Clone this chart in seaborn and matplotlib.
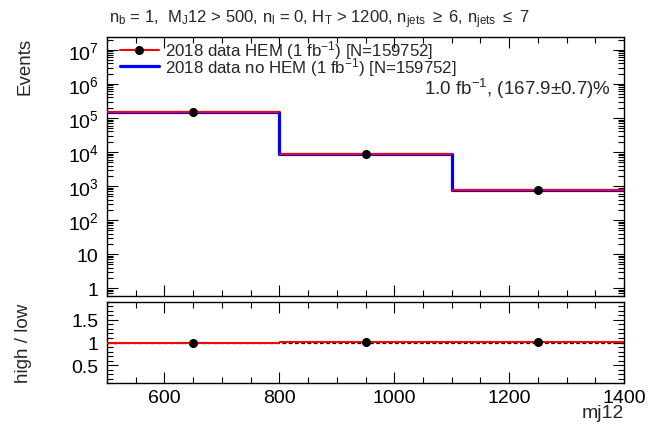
import numpy as np
import pandas as pd
import matplotlib
matplotlib.use("Agg")
import matplotlib.pyplot as plt
from matplotlib.ticker import FixedLocator, MultipleLocator, LogLocator, FuncFormatter, NullFormatter
from matplotlib.lines import Line2D
import seaborn as sns

# --- data -------------------------------------------------------------
bin_edges = [500, 800, 1100, 1400]
hem_counts = [150280, 8700, 772]        # 2018 data HEM
nohem_counts = [146000, 8450, 750]      # 2018 data no HEM
ratio_values = [0.99, 1.005, 1.02]      # high / low
x_ticks = [600, 800, 1000, 1200, 1400]
ratio_ticks = [0.5, 1.0, 1.5]

edges = np.array(bin_edges, dtype=float)
centers = 0.5 * (edges[1:] + edges[:-1])
half_w = 0.5 * np.diff(edges)

df = pd.DataFrame({"mj12": centers, "hem": hem_counts, "nohem": nohem_counts})

# --- style --------------------------------------------------------------
sns.set_theme(style="ticks")
plt.rcParams["font.family"] = ["Liberation Sans", "DejaVu Sans"]
plt.rcParams["mathtext.fontset"] = "custom"
plt.rcParams["mathtext.rm"] = "Liberation Sans"
plt.rcParams["mathtext.it"] = "Liberation Sans:italic"
plt.rcParams["mathtext.bf"] = "Liberation Sans:bold"
plt.rcParams["axes.linewidth"] = 1.0

fig = plt.figure(figsize=(6.51, 4.27), dpi=100)
fig.patch.set_facecolor("white")
ax = fig.add_axes([0.1644, 0.3044, 0.7942, 0.6066])
ax2 = fig.add_axes([0.1644, 0.1007, 0.7942, 0.1897], sharex=ax)

# --- top panel ----------------------------------------------------------
ax.set_yscale("log")
sns.histplot(data=df, x="mj12", weights="nohem", bins=list(bin_edges), element="step",
             fill=False, color="#0000ff", linewidth=2.3, ax=ax, legend=False)
ax.errorbar(centers, hem_counts, xerr=half_w, fmt="o", color="black",
            ecolor="#ff0000", elinewidth=1.5, markersize=5.5, capsize=0, zorder=5)

ax.set_xlim(500, 1400)
ax.set_ylim(10 ** -0.235, 10 ** 7.38)

def log_label(v, pos):
    if v <= 0:
        return ""
    n = int(round(np.log10(v)))
    if n == 0:
        return "1"
    if n == 1:
        return "10"
    return r"$\mathregular{10^{%d}}$" % n

ax.yaxis.set_major_locator(LogLocator(base=10, numticks=20))
ax.yaxis.set_minor_locator(LogLocator(base=10, subs=np.arange(2, 10), numticks=20))
ax.yaxis.set_major_formatter(FuncFormatter(log_label))
ax.yaxis.set_minor_formatter(NullFormatter())
ax.set_ylabel("Events", fontsize=13.5, loc="top")
ax.yaxis.set_label_coords(-0.143, 1.0)
ax.set_xlabel("")

ax.xaxis.set_major_locator(FixedLocator(x_ticks))
ax.xaxis.set_minor_locator(MultipleLocator(50))
ax.tick_params(axis="x", labelbottom=False)

for a in (ax, ax2):
    a.tick_params(which="both", direction="in", top=True, right=True,
                  colors="black", width=0.8)
    a.tick_params(which="major", length=8)
    a.tick_params(which="minor", length=4)
    a.tick_params(axis="y", labelsize=14, pad=6)
    for s in a.spines.values():
        s.set_color("black")
        s.set_linewidth(1.0)

handles = [
    Line2D([0], [0], color="#ff0000", lw=1.5, marker="o", markersize=5.5,
           markerfacecolor="black", markeredgecolor="black"),
    Line2D([0], [0], color="#0000ff", lw=2.3),
]
labels = [r"2018 data HEM (1 fb$^{-1}$) [N=159752]",
          r"2018 data no HEM (1 fb$^{-1}$) [N=159752]"]
ax.legend(handles, labels, loc="upper left", frameon=False, fontsize=12.2,
          handlelength=2.3, handletextpad=0.35, labelspacing=-0.38,
          borderaxespad=0.0, borderpad=0.0, bbox_to_anchor=(0.025, 0.995))

ax.text(0.975, 0.805, r"1.0 fb$^{-1}$, (167.9$\pm$0.7)%", transform=ax.transAxes,
        ha="right", va="center", fontsize=13.5)

fig.text(0.49, 0.955,
         r"$\mathregular{n_{b}}$ = 1,  $\mathregular{M_{J}}$12 > 500, "
         r"$\mathregular{n_{l}}$ = 0, $\mathregular{H_{T}}$ > 1200, "
         r"$\mathregular{n_{jets}}$ $\geq$ 6, $\mathregular{n_{jets}}$ $\leq$ 7",
         ha="center", va="center", fontsize=12)

# --- ratio panel --------------------------------------------------------
ax2.axhline(1.0, color="black", lw=0.9, ls=(0, (3, 2)), zorder=1)
ax2.errorbar(centers, ratio_values, xerr=half_w, fmt="o", color="black",
             ecolor="#ff0000", elinewidth=1.5, markersize=5.5, capsize=0, zorder=5)
ax2.set_ylim(0.1, 1.9)
ax2.yaxis.set_major_locator(FixedLocator(ratio_ticks))
ax2.yaxis.set_major_formatter(FuncFormatter(lambda v, p: "%g" % v))
minor_r = [v / 10 for v in range(1, 20) if v % 5 != 0]
ax2.yaxis.set_minor_locator(FixedLocator(minor_r))
ax2.yaxis.set_minor_formatter(NullFormatter())
ax2.set_ylabel("high / low", fontsize=13.5)
ax2.yaxis.set_label_coords(-0.145, 0.5)
ax2.set_xlabel("mj12", fontsize=14, loc="right")
ax2.xaxis.set_label_coords(1.0, -0.26)
ax2.tick_params(axis="x", labelsize=14, pad=4)

fig.savefig("out.png", dpi=100, facecolor="white")
